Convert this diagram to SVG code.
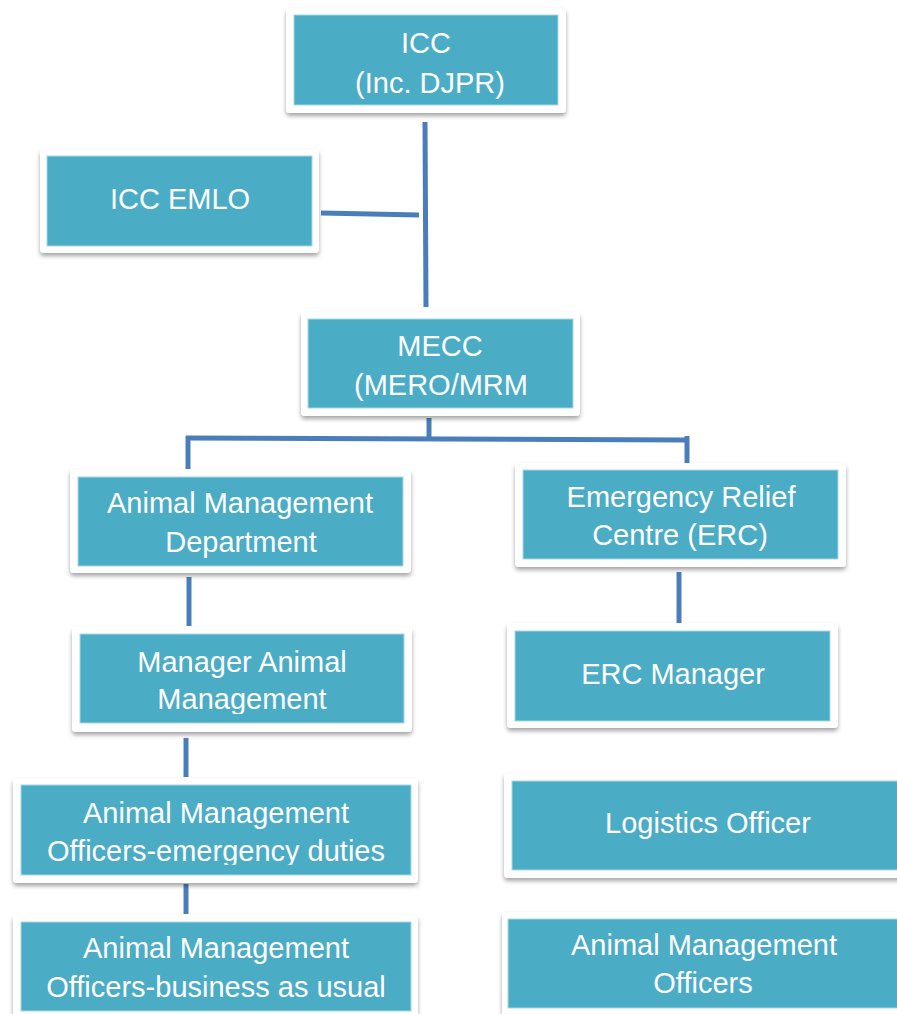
<svg xmlns="http://www.w3.org/2000/svg" width="897" height="1014" viewBox="0 0 897 1014">
  <defs>
    <filter id="shadow" x="-10%" y="-10%" width="120%" height="130%">
      <feDropShadow dx="0" dy="3" stdDeviation="2.2" flood-color="#000" flood-opacity="0.35"/>
    </filter>
    <clipPath id="clipMgr"><rect x="80" y="634" width="324" height="80"/></clipPath>
    <clipPath id="clipEmerg"><rect x="21" y="785" width="390" height="80"/></clipPath>
  </defs>
  <style>
    .frame { fill: #ffffff; filter: url(#shadow); }
    .fill { fill: #4bacc6; stroke: #a9d7e4; stroke-width: 1; }
    .label { fill: #ffffff; font-family: "Liberation Sans", Arial, sans-serif; font-size: 29px; text-anchor: middle; }
    .link { stroke: #4a7ebb; stroke-width: 5; fill: none; }
  </style>
  <rect width="897" height="1014" fill="#ffffff"/>

  <!-- connectors -->
  <g id="connectors">
    <line class="link" x1="425" y1="122" x2="426" y2="307"/>
    <line class="link" x1="321" y1="213" x2="419" y2="215"/>
    <line class="link" x1="429" y1="418" x2="429" y2="437"/>
    <line class="link" x1="186" y1="438" x2="685" y2="440"/>
    <line class="link" x1="188" y1="436" x2="188" y2="476"/>
    <line class="link" x1="687" y1="436" x2="687" y2="477"/>
    <line class="link" x1="189" y1="577" x2="189" y2="626"/>
    <line class="link" x1="186" y1="738" x2="186" y2="777"/>
    <line class="link" x1="186" y1="884" x2="186" y2="914"/>
    <line class="link" x1="679" y1="572" x2="679" y2="623"/>
  </g>

  <g id="icc">
    <rect class="frame" x="286" y="8" width="280" height="105" rx="4"/>
    <rect class="fill" x="294" y="15" width="264" height="90"/>
    <text class="label" x="426" y="53">ICC</text>
    <text class="label" x="430" y="93">(Inc. DJPR)</text>
  </g>

  <g id="icc-emlo">
    <rect class="frame" x="40" y="149" width="279" height="104" rx="4"/>
    <rect class="fill" x="47" y="156" width="265" height="90"/>
    <text class="label" x="180" y="209">ICC EMLO</text>
  </g>

  <g id="mecc">
    <rect class="frame" x="301" y="312" width="279" height="104" rx="4"/>
    <rect class="fill" x="308" y="319" width="265" height="89"/>
    <text class="label" x="440" y="356">MECC</text>
    <text class="label" x="441" y="395">(MERO/MRM</text>
  </g>

  <g id="animal-management-dept">
    <rect class="frame" x="70" y="469" width="341" height="104" rx="4"/>
    <rect class="fill" x="78" y="477" width="325" height="89"/>
    <text class="label" x="240" y="513">Animal Management</text>
    <text class="label" x="241" y="552">Department</text>
  </g>

  <g id="erc">
    <rect class="frame" x="515" y="463" width="331" height="104" rx="4"/>
    <rect class="fill" x="523" y="470" width="315" height="89"/>
    <text class="label" x="681" y="507">Emergency Relief</text>
    <text class="label" x="680" y="545">Centre (ERC)</text>
  </g>

  <g id="manager-animal-management">
    <rect class="frame" x="72" y="627" width="340" height="105" rx="4"/>
    <rect class="fill" x="80" y="634" width="324" height="89"/>
    <g clip-path="url(#clipMgr)">
      <text class="label" x="242" y="672">Manager Animal</text>
      <text class="label" x="242" y="709">Management</text>
    </g>
  </g>

  <g id="erc-manager">
    <rect class="frame" x="507" y="623" width="331" height="105" rx="4"/>
    <rect class="fill" x="515" y="631" width="315" height="90"/>
    <text class="label" x="673" y="684">ERC Manager</text>
  </g>

  <g id="amo-emergency">
    <rect class="frame" x="13" y="778" width="405" height="105" rx="4"/>
    <rect class="fill" x="21" y="785" width="390" height="90"/>
    <g clip-path="url(#clipEmerg)">
      <text class="label" x="216" y="823">Animal Management</text>
      <text class="label" x="216" y="861">Officers-emergency duties</text>
    </g>
  </g>

  <g id="amo-business">
    <rect class="frame" x="13" y="915" width="405" height="110" rx="4"/>
    <rect class="fill" x="21" y="922" width="390" height="89"/>
    <text class="label" x="216" y="958">Animal Management</text>
    <text class="label" x="216" y="997">Officers-business as usual</text>
  </g>

  <g id="logistics-officer">
    <rect class="frame" x="504" y="773" width="405" height="105" rx="4"/>
    <rect class="fill" x="512" y="781" width="390" height="89"/>
    <text class="label" x="708" y="833">Logistics Officer</text>
  </g>

  <g id="amo-erc">
    <rect class="frame" x="502" y="912" width="405" height="110" rx="4"/>
    <rect class="fill" x="508" y="919" width="394" height="89"/>
    <text class="label" x="704" y="955">Animal Management</text>
    <text class="label" x="703" y="993">Officers</text>
  </g>
</svg>
